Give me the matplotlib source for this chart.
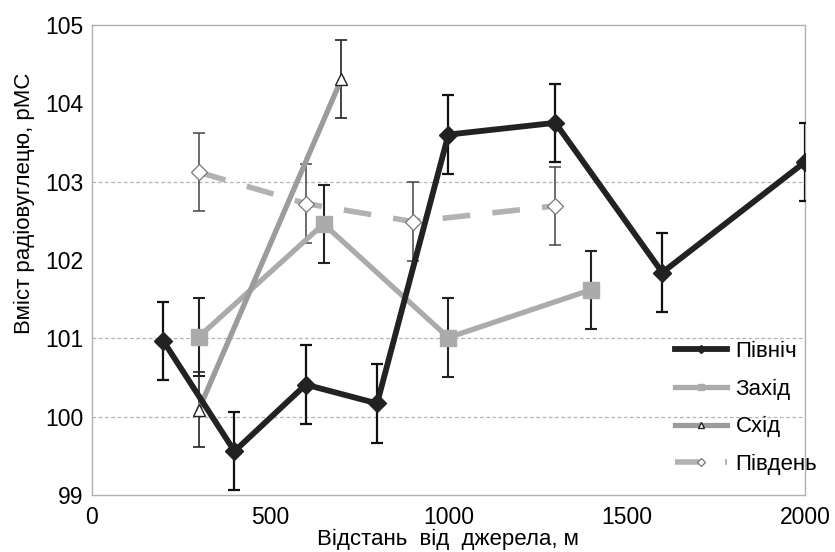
import matplotlib.pyplot as plt

plt.rcParams['font.family'] = ['Liberation Sans', 'DejaVu Sans']

# Дані
north_x = [200, 400, 600, 800, 1000, 1300, 1600, 2000]
north_y = [100.97, 99.56, 100.41, 100.17, 103.60, 103.75, 101.84, 103.25]
north_err = [0.5, 0.5, 0.5, 0.5, 0.5, 0.5, 0.5, 0.5]

west_x = [300, 650, 1000, 1400]
west_y = [101.02, 102.46, 101.01, 101.62]
west_err = [0.5, 0.5, 0.5, 0.5]

east_x = [300, 700]
east_y = [100.09, 104.31]
east_err = [0.48, 0.5]

south_x = [300, 600, 900, 1300]
south_y = [103.12, 102.72, 102.49, 102.69]
south_err = [0.5, 0.5, 0.5, 0.5]

grid_levels = [100, 101, 103]
y_ticks = [99, 100, 101, 102, 103, 104, 105]
x_ticks = [0, 500, 1000, 1500, 2000]

fig = plt.figure(figsize=(8.35, 5.52), dpi=100)
ax = fig.add_axes([0.110, 0.103, 0.854, 0.852])

for g in grid_levels:
    ax.axhline(g, color='#b5b5b5', lw=0.9, ls=(0, (3, 2)), zorder=0)

# Похибки
ax.errorbar(north_x, north_y, yerr=north_err, fmt='none', ecolor='#111111',
            elinewidth=1.6, capsize=4, capthick=1.6, zorder=3)
ax.errorbar(west_x, west_y, yerr=west_err, fmt='none', ecolor='#222222',
            elinewidth=1.5, capsize=4, capthick=1.5, zorder=3)
ax.errorbar(east_x, east_y, yerr=east_err, fmt='none', ecolor='#222222',
            elinewidth=1.2, capsize=4, capthick=1.2, zorder=3)
ax.errorbar(south_x, south_y, yerr=south_err, fmt='none', ecolor='#444444',
            elinewidth=1.1, capsize=4, capthick=1.1, zorder=3)

# Лінії
ax.plot(west_x, west_y, color='#ababab', lw=3.8, marker='s', ms=11,
        mfc='#ababab', mec='#ababab', label='Захід', zorder=4)
ax.plot(east_x, east_y, color='#9c9c9c', lw=3.8, marker='^', ms=9,
        mfc='white', mec='#222222', mew=1.0, label='Схід', zorder=4)
ax.plot(south_x, south_y, color='#b2b2b2', lw=4, ls=(0, (5, 4)), marker='D', ms=8,
        mfc='white', mec='#777777', mew=0.9, label='Південь', zorder=4)
ax.plot(north_x, north_y, color='#222222', lw=4.2, marker='D', ms=9,
        mfc='#222222', mec='#222222', label='Північ', zorder=5)

ax.set_xlim(0, 2000)
ax.set_ylim(99, 105)
ax.set_xticks(x_ticks)
ax.set_yticks(y_ticks)
ax.tick_params(axis='both', length=0, labelsize=16.5, pad=6)
ax.tick_params(axis='x', pad=8)

for s in ax.spines.values():
    s.set_color('#b0b0b0')
    s.set_linewidth(1.0)
    s.set_linestyle((0, (1, 1)))

ax.set_xlabel('Відстань  від  джерела, м', fontsize=16, labelpad=0)
ax.set_ylabel('Вміст радіовуглецю, рМС', fontsize=16)
ax.yaxis.set_label_coords(-0.08, 0.62)

h, l = ax.get_legend_handles_labels()
order = [l.index(n) for n in ['Північ', 'Захід', 'Схід', 'Південь']]
ax.legend([h[i] for i in order], [l[i] for i in order], loc='lower right',
          bbox_to_anchor=(1.045, 0.0), frameon=False, fontsize=16,
          handlelength=2.3, labelspacing=0.75, markerscale=0.45,
          handletextpad=0.4)

fig.savefig('out.png', dpi=100)
